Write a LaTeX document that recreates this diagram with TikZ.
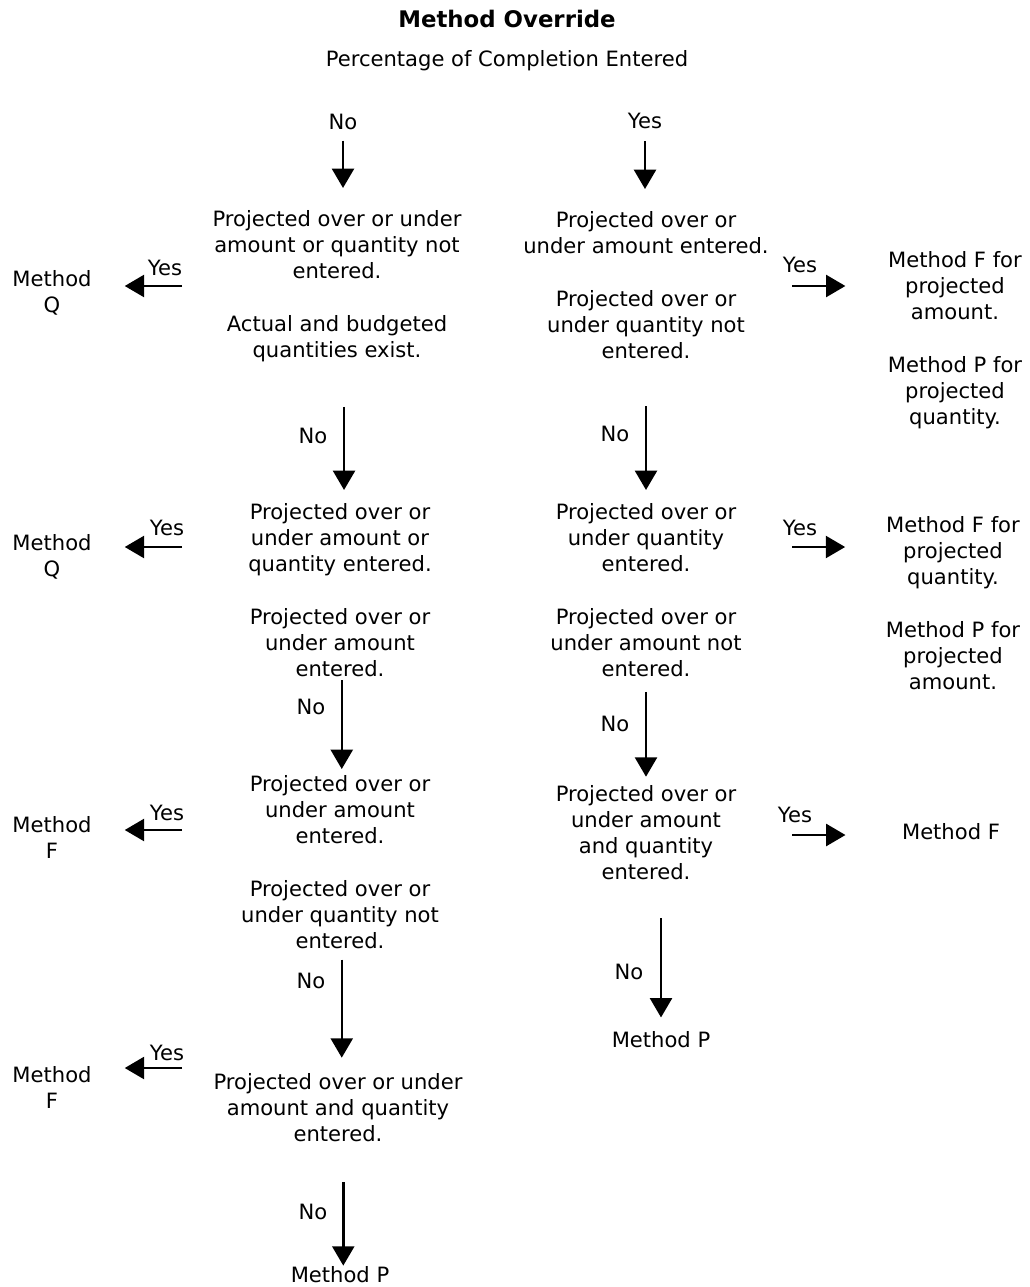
\documentclass[tikz,border=0pt]{standalone}
\usepackage{fontspec}
\setmainfont{DejaVu Sans}
\usetikzlibrary{arrows.meta}

\begin{document}
\begin{tikzpicture}[x=0.02cm, y=-0.02cm,
    txt/.style={align=center, inner sep=0pt, font=\fontsize{12}{14.8}\selectfont},
    arr/.style={line width=1.4pt, -{Triangle[width=12.5pt, length=11pt]}}]
\useasboundingbox (0,0) rectangle (1029,1287);
\node[txt, font=\bfseries\fontsize{13}{16}\selectfont] at(507, 19)(title){Method Override};
\node[txt] at(507, 61)(sub){Percentage of Completion Entered};
\node[txt] at(343, 122)(no0){No};
\node[txt] at(645, 121)(yes0){Yes};
% left column
\node[txt] at(337, 286)(l1){Projected over or under\\amount or quantity not\\entered.\\[5.4mm]Actual and budgeted\\quantities exist.};
\node[txt] at(340, 590)(l2){Projected over or\\under amount or\\quantity entered.\\[5.4mm]Projected over or\\under amount\\entered.};
\node[txt] at(340, 862)(l3){Projected over or\\under amount\\entered.\\[5.4mm]Projected over or\\under quantity not\\entered.};
\node[txt] at(338, 1108)(l4){Projected over or under\\amount and quantity\\entered.};
\node[txt] at(340, 1275)(mp1){Method P};
% right column
\node[txt] at(646, 285)(r1){Projected over or\\under amount entered.\\[5.4mm]Projected over or\\under quantity not\\entered.};
\node[txt] at(646, 590)(r2){Projected over or\\under quantity\\entered.\\[5.4mm]Projected over or\\under amount not\\entered.};
\node[txt] at(646, 833)(r3){Projected over or\\under amount\\and quantity\\entered.};
\node[txt] at(661, 1040)(mp2){Method P};
% outcomes
\node[txt] at(52, 293)(mq1){Method\\Q};
\node[txt] at(52, 557)(mq2){Method\\Q};
\node[txt] at(52, 837)(mf1){Method\\F};
\node[txt] at(52, 1087)(mf2){Method\\F};
\node[txt] at(955, 340)(mr1){Method F for\\projected\\amount.\\[5.4mm]Method P for\\projected\\quantity.};
\node[txt] at(953, 603)(mr2){Method F for\\projected\\quantity.\\[5.4mm]Method P for\\projected\\amount.};
\node[txt] at(951, 832)(mr3){Method F};
% labels
\node[txt] at(313, 436)(no1){No};
\node[txt] at(311, 707)(no2){No};
\node[txt] at(311, 981)(no3){No};
\node[txt] at(313, 1212)(no4){No};
\node[txt] at(615, 434)(no5){No};
\node[txt] at(615, 724)(no6){No};
\node[txt] at(629, 972)(no7){No};
\node[txt] at(165, 268)(yes1){Yes};
\node[txt] at(167, 528)(yes2){Yes};
\node[txt] at(167, 813)(yes3){Yes};
\node[txt] at(167, 1053)(yes4){Yes};
\node[txt] at(800, 265)(yes5){Yes};
\node[txt] at(800, 528)(yes6){Yes};
\node[txt] at(795, 815)(yes7){Yes};
\coordinate (t1) at(182, 286);
\coordinate (t2) at(182, 547);
\coordinate (t3) at(182, 830);
\coordinate (t4) at(182, 1068);
\coordinate (t5) at(792, 286);
\coordinate (t6) at(792, 547);
\coordinate (t7) at(792, 835);
% down arrows
\draw[arr, shorten <=6pt, shorten >=12.5pt] (no0.south) -- (no0.south |- l1.north);
\draw[arr, shorten <=7pt, shorten >=12.5pt] (yes0.south) -- (yes0.south |- r1.north);
\draw[arr, shorten <=25.5pt, shorten >=7.4pt] ([xshift=4]l1.south) -- ([xshift=4]l1.south |- l2.north);
\draw[arr, shorten <=1.7pt, shorten >=3.4pt] ([xshift=1]l2.south) -- ([xshift=1]l2.south |- l3.north);
\draw[arr, shorten <=6pt, shorten >=9pt] ([xshift=1]l3.south) -- ([xshift=1]l3.south |- l4.north);
\draw[arr, shorten <=22.7pt, shorten >=0.5pt] ([xshift=3]l4.south) -- ([xshift=3]l4.south |- mp1.north);
\draw[arr, shorten <=27pt, shorten >=7.4pt] (r1.south) -- (r1.south |- r2.north);
\draw[arr, shorten <=8.5pt, shorten >=5pt] (r2.south) -- (r2.south |- r3.north);
\draw[arr, shorten <=21.5pt, shorten >=8pt] (mp2.north |- r3.south) -- (mp2.north);
% side arrows
\draw[arr, shorten >=18.7pt] (t1) -- (t1 -| mq1.east);
\draw[arr, shorten >=18.7pt] (t2) -- (t2 -| mq2.east);
\draw[arr, shorten >=18.7pt] (t3) -- (t3 -| mf1.east);
\draw[arr, shorten >=18.7pt] (t4) -- (t4 -| mf2.east);
\draw[arr, shorten >=24pt] (t5) -- (t5 -| mr1.west);
\draw[arr, shorten >=23pt] (t6) -- (t6 -| mr2.west);
\draw[arr, shorten >=32pt] (t7) -- (t7 -| mr3.west);
\end{tikzpicture}
\end{document}
